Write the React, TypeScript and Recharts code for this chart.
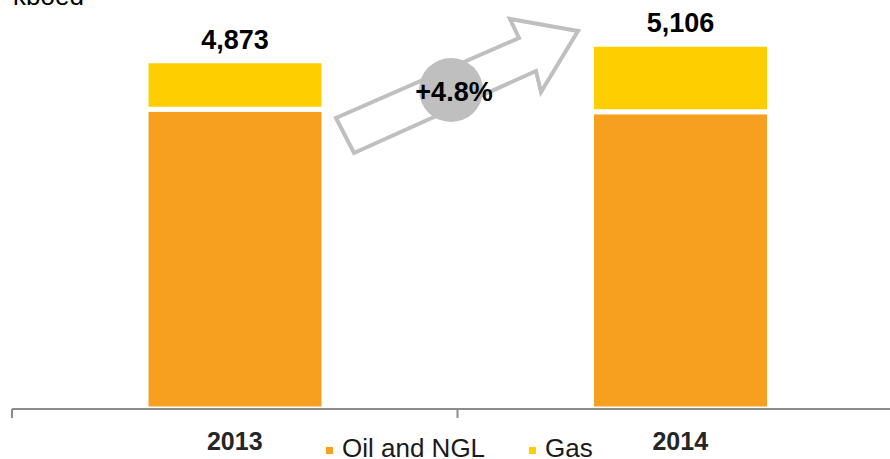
import React from "react";
import { BarChart, Bar, XAxis, YAxis, Legend, LabelList } from "recharts";

const years = ["2013", "2014"];
const oilNgl = [4195, 4160];
const gas = [678, 946];
const totals = [4873, 5106];
const seriesNames = ["Oil and NGL", "Gas"];

const data = years.map((year, i) => ({
  year,
  oil: oilNgl[i],
  gas: gas[i],
  total: totals[i],
}));

const growth = ((totals[1] / totals[0] - 1) * 100).toFixed(1);

const FONT = '"Liberation Sans", Arial, sans-serif';
const CHART_W = 904;
const CHART_H = 459;
const margin = { top: 16, right: 1, bottom: 0, left: 12 };
const band = (CHART_W - margin.left - margin.right) / years.length;

const YearTick = (props) => {
  const { x, y, payload } = props;
  return (
    <g>
      <line
        x1={x - band / 2}
        y1={y}
        x2={x - band / 2}
        y2={y + 9}
        stroke="#8c8c8c"
        strokeWidth={2}
      />
      <text
        x={x}
        y={y + 41}
        textAnchor="middle"
        fontSize={25}
        fontWeight="bold"
        fill="#262626"
        fontFamily={FONT}
      >
        {payload.value}
      </text>
    </g>
  );
};

const LegendContent = (props) => {
  const items = [...(props.payload || [])].sort(
    (a, b) => seriesNames.indexOf(a.value) - seriesNames.indexOf(b.value)
  );
  return (
    <div style={{ display: "flex", fontFamily: FONT, fontSize: 26, lineHeight: "22px", color: "#1a1a1a" }}>
      {items.map((entry, i) => (
        <div key={`item-${i}`} style={{ marginRight: i === 0 ? 44 : 0, whiteSpace: "nowrap" }}>
          <span
            style={{
              display: "inline-block",
              width: 7,
              height: 7,
              background: entry.color,
              marginRight: 9,
              position: "relative",
              top: -3,
            }}
          />
          {entry.value}
        </div>
      ))}
    </div>
  );
};

export default function App() {
  return (
    <div
      style={{
        position: "absolute",
        left: 0,
        top: 0,
        width: 890,
        height: 459,
        overflow: "hidden",
        fontFamily: FONT,
        background: "#fff",
      }}
    >
      <BarChart width={CHART_W} height={CHART_H} data={data} margin={margin} barSize={178}>
        <YAxis hide domain={[0, 5500]} />
        <Bar
          dataKey="oil"
          name={seriesNames[0]}
          stackId="a"
          fill="#F7A01F"
          stroke="#fff"
          strokeWidth={5}
          isAnimationActive={false}
        />
        <Bar
          dataKey="gas"
          name={seriesNames[1]}
          stackId="a"
          fill="#FFCE00"
          stroke="#fff"
          strokeWidth={5}
          isAnimationActive={false}
        >
          <LabelList
            dataKey="total"
            position="top"
            offset={12}
            formatter={(v) => Number(v).toLocaleString("en-US")}
            fill="#000"
            fontSize={27}
            fontWeight="bold"
            fontFamily={FONT}
          />
        </Bar>
        <XAxis
          dataKey="year"
          height={50}
          interval={0}
          axisLine={{ stroke: "#8c8c8c", strokeWidth: 2 }}
          tickLine={false}
          tickSize={0}
          tickMargin={0}
          tick={<YearTick />}
        />
        <Legend
          layout="horizontal"
          verticalAlign="middle"
          align="center"
          content={<LegendContent />}
          wrapperStyle={{ left: 326, top: 437, bottom: "auto", width: "auto", height: "auto" }}
        />
      </BarChart>
      <svg
        width={890}
        height={459}
        style={{ position: "absolute", left: 0, top: 0, pointerEvents: "none" }}
      >
        <text x={13} y={5} fontSize={26} fill="#000" fontFamily={FONT}>
          kboed
        </text>
        <polygon
          points="336,118 354,153 536,71 541,92 578,31 510,19 519,38"
          fill="#fff"
          stroke="#BFBFBF"
          strokeWidth={4}
        />
        <circle cx={451} cy={90} r={32} fill="#BFBFBF" />
        <text
          x={454}
          y={100.5}
          textAnchor="middle"
          fontSize={27}
          fontWeight="bold"
          fill="#000"
          fontFamily={FONT}
        >
          {`+${growth}%`}
        </text>
      </svg>
    </div>
  );
}
